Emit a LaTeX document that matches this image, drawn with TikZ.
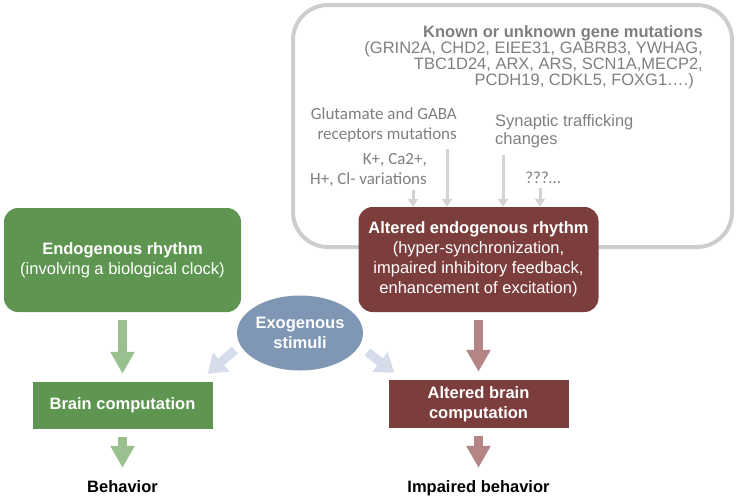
\documentclass[tikz,border=0pt]{standalone}
\usepackage{fontspec}
\setmainfont{Liberation Sans}
\newfontfamily\calfont{Carlito}
\usetikzlibrary{arrows.meta,shapes.geometric}
\definecolor{boxgreen}{HTML}{5E9550}
\definecolor{boxred}{HTML}{7C3E3D}
\definecolor{exoblue}{HTML}{7F96B4}
\definecolor{argreen}{HTML}{9BC08F}
\definecolor{arred}{HTML}{B48584}
\definecolor{arblue}{HTML}{D5DDEA}
\definecolor{framegray}{HTML}{CDCDCD}
\definecolor{txtgray}{HTML}{7F7F7F}
\definecolor{argray}{HTML}{D3D3D3}
\newcommand\txtsize{\fontsize{16.5}{20}\selectfont}
\tikzset{rhythm/.style={rounded corners=14pt,text=white,align=center,inner sep=0pt,font=\txtsize}}
\tikzset{comp/.style={text=white,align=center,minimum width=180pt,minimum height=47pt,inner sep=0pt,font=\txtsize\bfseries}}
\tikzset{outcome/.style={inner sep=0pt,anchor=base,font=\txtsize\bfseries}}
\tikzset{graytext/.style={text=txtgray,inner sep=0pt}}
\tikzset{bigarrow/.style={line width=9pt,-{Triangle[width=23pt,length=22pt]},shorten <=8pt,shorten >=8pt}}
\tikzset{exoarrow/.style={draw=arblue,line width=9pt,-{Triangle[width=24pt,length=18pt]}}}
\tikzset{grayarrow/.style={draw=argray,line width=3pt,-{Triangle[width=10pt,length=8pt]}}}

\begin{document}
\begin{tikzpicture}[x=1pt,y=-1pt]
        \useasboundingbox (0,0) rectangle (736,498);
        % frame round the causes
        \node[draw=framegray,line width=4pt,rounded corners=35pt,minimum width=439pt,minimum height=242pt,inner sep=0pt] (genes) at (512.5,126) {};
        \node[graytext,align=right,anchor=east,font=\fontsize{16.5}{16}\selectfont] (mut) at (703,57)
          {{\bfseries Known or unknown gene mutations}\\(GRIN2A, CHD2, EIEE31, GABRB3, YWHAG,\\TBC1D24, ARX, ARS, SCN1A,MECP2,\\PCDH19, CDKL5, FOXG1….)\hspace*{9pt}};
        \node[graytext,align=right,anchor=east,font=\calfont\fontsize{17}{20}\selectfont] (glut) at (457,125) {Glutamate and GABA\\receptors mutations};
        \node[graytext,align=right,anchor=east,font=\calfont\fontsize{17}{20}\selectfont] (ions) at (427,170) {K+, Ca2+,\\H+, Cl- variations};
        \node[graytext,align=left,anchor=west,font=\fontsize{16.5}{18}\selectfont] (syn) at (495,131) {Synaptic trafficking\\changes};
        \node[graytext,font=\calfont\fontsize{17}{20}\selectfont] (unk) at (543,178) {???…};

        % rhythms
        \node[rhythm,fill=boxgreen,minimum width=237pt,minimum height=104pt] (endo) at (122.5,260)
          {{\bfseries Endogenous rhythm}\\(involving a biological clock)};
        \node[rhythm,fill=boxred,minimum width=240pt,minimum height=105pt] (altendo) at (478.5,259.5)
          {{\bfseries Altered endogenous rhythm}\\(hyper-synchronization,\\impaired inhibitory feedback,\\enhancement of excitation)};
        \node[ellipse,fill=exoblue,text=white,minimum width=126pt,minimum height=75pt,inner sep=0pt,align=center,font=\txtsize\bfseries] (exo) at (300,333) {Exogenous\\stimuli};

        % computation and behaviour
        \node[comp,fill=boxgreen] (brain) at (122.5,405.5) {Brain computation};
        \node[comp,fill=boxred,minimum height=48pt] (altbrain) at (478.5,404) {Altered brain\\computation};
        \node[outcome] (beh) at (122.5,492) {Behavior};
        \node[outcome] (impbeh) at (478.5,492) {Impaired behavior};

        \coordinate (g1) at ([shift={(-14,3)}]ions.south east);
        \coordinate (g2) at ([shift={(-10,7)}]glut.south east);
        \coordinate (g3) at ([shift={(8,7)}]syn.south west);
        \coordinate (g4) at ([shift={(-3,4)}]unk.south);
        \foreach \g in {g1,g2,g3,g4}
          \draw[grayarrow] (\g) -- (\g |- altendo.north);

        \draw[bigarrow,draw=argreen] (endo) -- (brain);
        \draw[bigarrow,draw=argreen,shorten >=12pt] (brain) -- (beh);
        \draw[bigarrow,draw=arred] (altendo) -- (altbrain);
        \draw[bigarrow,draw=arred,shorten >=12pt] (altbrain) -- (impbeh);
        \draw[exoarrow] ([shift={(-2,17)}]exo.west) -- ([shift={(-5,-8)}]brain.north east);
        \draw[exoarrow] ([shift={(4,19)}]exo.east) -- ([shift={(6,-7)}]altbrain.north west);
\end{tikzpicture}
\end{document}
